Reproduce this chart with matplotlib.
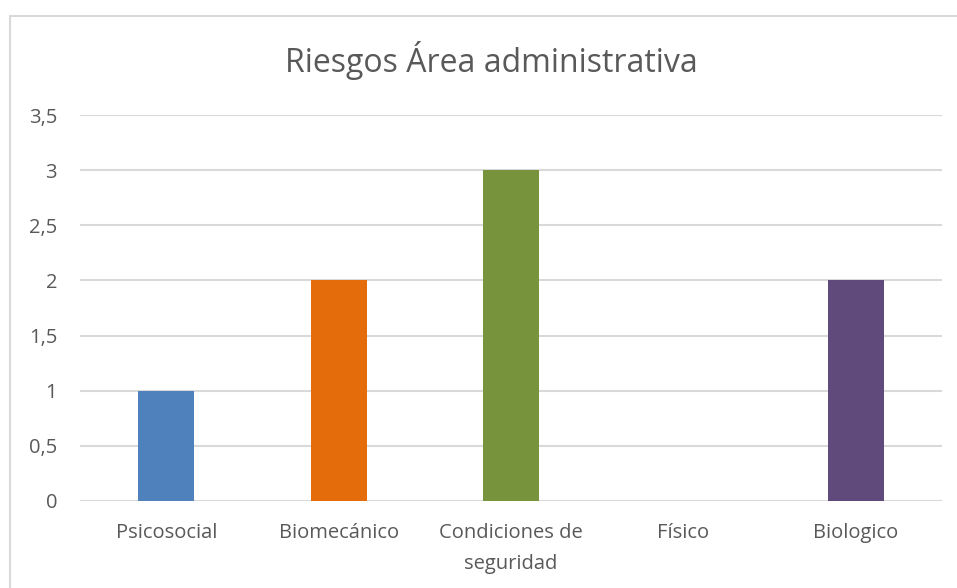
import matplotlib.pyplot as plt
from matplotlib.patches import Rectangle
from matplotlib.ticker import FuncFormatter

categories = ["Psicosocial", "Biomecánico", "Condiciones de\nseguridad", "Físico", "Biologico"]
values = [1, 2, 3, 0, 2]
colors = ["#4F81BD", "#E46C0A", "#77933C", "#8064A2", "#604A7B"]
yticks = [0, 0.5, 1, 1.5, 2, 2.5, 3, 3.5]

plt.rcParams["font.family"] = ["Open Sans", "DejaVu Sans"]
text_color = "#595959"

fig = plt.figure(figsize=(9.57, 5.88), dpi=100)

# chart frame
fig.patches.append(Rectangle((10 / 957, -0.01), 1.0, 1 - 16 / 588 + 0.01,
                             transform=fig.transFigure, fill=False,
                             edgecolor="#D9D9D9", linewidth=1.5))

ax = fig.add_axes([80 / 957, 87 / 588, 862 / 957, 386 / 588])
x = range(len(categories))
ax.bar(x, values, width=0.325, color=colors, zorder=3)

ax.set_xlim(-0.5, len(categories) - 0.5)
ax.set_ylim(0, 3.5)
ax.set_yticks(yticks)
ax.yaxis.set_major_formatter(FuncFormatter(lambda v, _: f"{v:g}".replace(".", ",")))
ax.set_xticks(list(x))
ax.set_xticklabels(categories, linespacing=1.7)

ax.grid(axis="y", color="#D9D9D9", linewidth=1.5, zorder=0)
for s in ax.spines.values():
    s.set_visible(False)
ax.tick_params(axis="both", length=0, labelcolor=text_color, labelsize=14.5)
ax.tick_params(axis="y", pad=16.5)
ax.tick_params(axis="x", pad=16)

fig.text(491 / 957, 1 - 60 / 588, "Riesgos Área administrativa", ha="center",
         va="center", fontsize=23, color=text_color)

fig.savefig("out.png", dpi=100)
